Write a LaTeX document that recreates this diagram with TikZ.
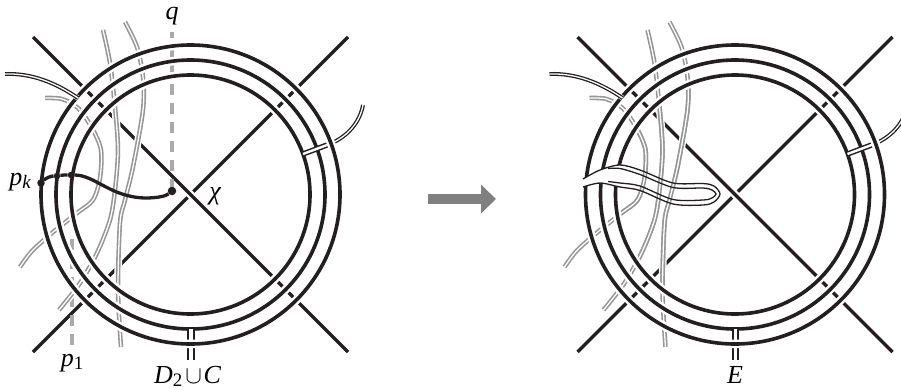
\documentclass[tikz,border=0pt]{standalone}
\usepackage{fontspec}
\setmainfont{Liberation Serif}
\usetikzlibrary{arrows.meta}
\definecolor{knotblack}{RGB}{35,31,32}
\definecolor{knotgray}{RGB}{150,150,150}
\definecolor{dashcolor}{RGB}{170,170,170}
\definecolor{arrowgray}{RGB}{128,128,128}
\tikzset{
  ringline/.style={draw=knotblack, line width=3.6pt},
  ringhalo/.style={draw=white, line width=8.5pt},
  crossline/.style={draw=knotblack, line width=3.3pt},
  crosshalo/.style={draw=white, line width=8pt},
  strandline/.style={draw=knotgray, double=white, double distance=1.3pt, line width=1.6pt},
  strandhalo/.style={draw=white, line width=7.5pt},
  dashgray/.style={draw=dashcolor, line width=3.7pt, dash pattern=on 11pt off 8pt},
  bandthin/.style={draw=knotblack, double=white, double distance=1.3pt, line width=1.3pt},
  bandwide/.style={draw=knotblack, double=white, double distance=2.4pt, line width=1.5pt},
  bandfoot/.style={draw=knotblack, double=white, double distance=3.2pt, line width=2pt},
  tubeline/.style={draw=knotblack, line width=1.3pt},
  knotdot/.style={circle, fill=knotblack, inner sep=0pt, minimum size=#1},
  mark label/.style={font=\fontsize{26}{28}\selectfont, inner sep=0pt, anchor=base},
}
\newcommand{\subfont}{\fontsize{19}{19}\selectfont}
\newcommand{\strandA}{plot[smooth] coordinates {(45,98) (62,99) (78,108) (92,128) (101,150) (100,178) (93,200) (77,213) (52,233) (32,251) (20,267)}}
\newcommand{\strandB}{plot[smooth] coordinates {(103,30) (110,63) (115,107) (118,150) (115,190) (110,220) (97,253) (80,283) (59,310)}}
\newcommand{\strandC}{plot[smooth] coordinates {(125,22) (137,47) (143,77) (143,110) (133,167) (125,200) (120,223) (118,290) (121,347)}}
\newcommand{\tubeouter}{plot[smooth] coordinates {(583,179) (600,170) (620,165) (640,170) (673,183) (703,183.5) (714,186) (720,194) (714,202) (703,205) (673,204) (640,190.5) (620,187) (600,183) (583,187)}}
\newcommand{\tubeinner}{plot[smooth] coordinates {(608,168.5) (620,168.5) (640,174.5) (673,187.5) (703,188) (712,190) (716,194) (712,198) (703,200) (673,199.5) (640,186) (620,183) (608,181.5)}}
% One disc: crossing arcs, strands, rings and the short bands
\newcommand{\discbase}[1]{
  \coordinate (centre) at (190.5,194.5);
  \coordinate (crossA) at (33,37);
  \coordinate (crossB) at (348,352);
  \coordinate (crossC) at (33,352);
  \coordinate (crossD) at (348,37);
  \draw[crossline] (crossC) -- (crossD);
  \draw[crosshalo] (crossA) -- (crossB);
  \draw[crossline] (crossA) -- (crossB);
  #1
  \foreach \strandpath in {\strandA,\strandB,\strandC}{
    \draw[strandhalo] \strandpath;
    \draw[strandline] \strandpath;
  }
  % Inner rings
  \foreach \ringr in {119.5pt,134.5pt}{
    \draw[ringhalo] (centre) circle[radius=\ringr];
    \draw[ringline] (centre) circle[radius=\ringr];
  }
  % Bands
  \coordinate (footA) at (191,329);
  \coordinate (footB) at (191,360);
  \draw[bandfoot] (footA) -- (footB);
  \coordinate (sideA) at (303,154);
  \coordinate (sideB) at (331,143.5);
  \coordinate (sideC) at (363,105);
  \draw[bandwide] (sideA) -- (sideB);
  \draw[bandthin] (sideB) .. controls (348,136) and (360,122) .. (sideC);
  % Outer ring
  \draw[ringhalo] (centre) circle[radius=149.5pt];
  \draw[ringline] (centre) circle[radius=149.5pt];
  % Band on the upper left
  \coordinate (leftA) at (5,74);
  \coordinate (leftB) at (78,98);
  \draw[draw=white, line width=5pt] (leftA) .. controls (32,73) and (56,83) .. (leftB);
  \draw[bandthin] (leftA) .. controls (32,73) and (56,83) .. (leftB);
}
\begin{document}
\begin{tikzpicture}[x=1pt, y=-1pt]
\useasboundingbox (0,0) rectangle (901,389);

% Left disc
\begin{scope}
\discbase{
  \coordinate (qtop) at (172,32);
  \coordinate (qfoot) at (172,190);
  \coordinate (ponetop) at (72,238);
  \coordinate (ponefoot) at (72,345);
  \draw[dashgray] (qfoot) -- (qtop);
  \draw[dashgray] (ponefoot) -- (ponetop);
}
\end{scope}
\node[knotdot=7.5pt] (pk) at (41,183) {};
\node[knotdot=6.5pt] (ringb) at (57,176) {};
\node[knotdot=6.5pt] (ringc) at (71,175) {};
\node[knotdot=8.5pt] (chidot) at (172,191) {};
\draw[crossline] (pk) .. controls (46,178) and (51,176) .. (ringb)
  .. controls (62,175) and (66,175) .. (ringc)
  .. controls (95,175) and (110,197) .. (145,198)
  .. controls (158,198) and (166,196) .. (chidot);

% Right disc
\begin{scope}[shift={(544.5,0)}]
\discbase{}
\end{scope}

% Tube pushed in along the arc
\fill[white] \tubeouter;
\begin{scope}[shift={(544.5,0)}]
\clip (190.5,194.5) circle[radius=115pt];
\draw[strandline] \strandA;
\draw[strandline] \strandB;
\draw[strandline] \strandC;
\end{scope}
\draw[tubeline] \tubeouter;
\draw[tubeline] \tubeinner;

% Arrow between the discs
\coordinate (arrowfrom) at (428,199);
\coordinate (arrowto) at (496,199);
\draw[-{Triangle[length=15pt,width=28pt]}, draw=arrowgray, fill=arrowgray, line width=9.5pt] (arrowfrom) -- (arrowto);

% Labels
\node[mark label] (qlabel) at (172,19) {\itshape q};
\node[mark label] (pklabel) at (20,185) {\itshape p\raisebox{-3pt}{\subfont k}};
\node[mark label] (ponelabel) at (72,366) {\itshape p\raisebox{-3pt}{\subfont\upshape 1}};
\node[mark label] (chilabel) at (215,199) {\itshape χ};
\node[mark label] (dlabel) at (187.5,383) {\itshape D\raisebox{-3pt}{\subfont\upshape 2}\kern3pt$\cup$\kern1.5pt C};
\node[mark label] (elabel) at (735,383) {\itshape E};
\end{tikzpicture}
\end{document}
